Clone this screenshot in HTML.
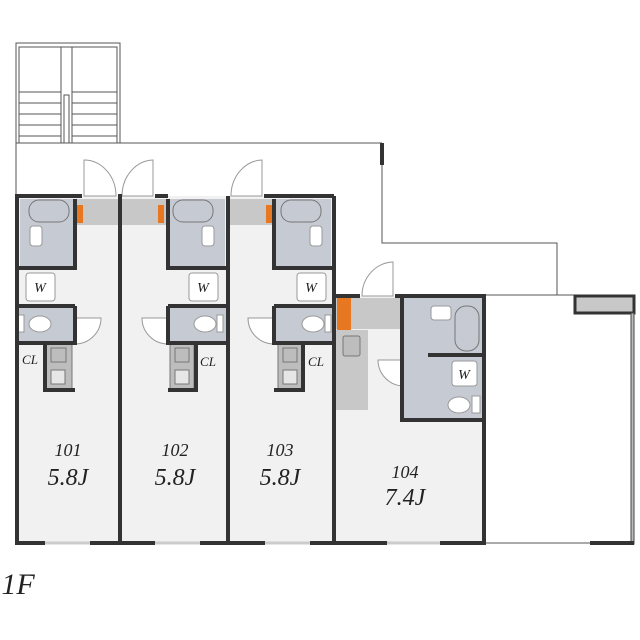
<!DOCTYPE html>
<html><head><meta charset="utf-8"><style>
html,body{margin:0;padding:0;background:#fff;}
svg{display:block}
text{font-family:"Liberation Serif",serif;font-style:italic;fill:#222}
</style></head><body>
<svg width="640" height="640" viewBox="0 0 640 640" xmlns="http://www.w3.org/2000/svg">
<!-- stairs -->
<g fill="none" stroke="#555" stroke-width="1">
<rect x="16" y="43" width="104" height="100"/>
<rect x="19" y="47" width="98" height="96"/>
<line x1="61" y1="47" x2="61" y2="143"/><line x1="72" y1="47" x2="72" y2="143"/>
<rect x="64" y="95" width="5" height="48"/>
<line x1="19" y1="92" x2="61" y2="92"/><line x1="72" y1="92" x2="117" y2="92"/>
<line x1="19" y1="103" x2="61" y2="103"/><line x1="72" y1="103" x2="117" y2="103"/>
<line x1="19" y1="114" x2="61" y2="114"/><line x1="72" y1="114" x2="117" y2="114"/>
<line x1="19" y1="125" x2="61" y2="125"/><line x1="72" y1="125" x2="117" y2="125"/>
<line x1="19" y1="136" x2="61" y2="136"/><line x1="72" y1="136" x2="117" y2="136"/>
</g>
<!-- outline -->
<g fill="none" stroke="#555" stroke-width="1">
<polyline points="16,196 16,143 382,143"/>
<polyline points="382,165 382,243 557,243 557,295 484,295"/>
<line x1="484" y1="543" x2="633" y2="543"/>
<line x1="557" y1="295" x2="575" y2="295"/>
</g>
<rect x="380" y="143" width="4" height="22" fill="#333"/>
<rect x="575" y="296" width="59" height="17" fill="#c8c8c8" stroke="#333" stroke-width="3"/>
<rect x="631" y="313" width="3" height="231" fill="#bbb" stroke="#444" stroke-width="1"/>
<rect x="590" y="541" width="44" height="4" fill="#333"/>
<!-- unit floors -->
<g fill="#f1f1f1">
<rect x="17" y="196" width="103" height="347"/>
<rect x="120" y="196" width="108" height="347"/>
<rect x="228" y="196" width="106" height="347"/>
<rect x="334" y="296" width="150" height="247"/>
</g>
<!-- entrances -->
<g fill="#c8c8c8">
<rect x="75" y="199" width="43" height="26"/>
<rect x="122" y="199" width="44" height="26"/>
<rect x="230" y="199" width="44" height="26"/>
<rect x="336" y="298" width="66" height="31"/>
<rect x="336" y="330" width="32" height="80"/>
</g>
<g fill="#e87722">
<rect x="77" y="205" width="6" height="18"/>
<rect x="158" y="205" width="6" height="18"/>
<rect x="266" y="205" width="6" height="18"/>
<rect x="337" y="298" width="14" height="32"/>
</g>
<!-- baths -->
<g fill="#c5cad3">
<rect x="20" y="199" width="55" height="69"/>
<rect x="168" y="199" width="57" height="69"/>
<rect x="276" y="199" width="55" height="69"/>
<rect x="17" y="306" width="58" height="37"/>
<rect x="168" y="306" width="60" height="37"/>
<rect x="274" y="306" width="60" height="37"/>
<rect x="404" y="298" width="78" height="120"/>
</g>
<g fill="#c5cad3" stroke="#777" stroke-width="1">
<rect x="29" y="200" width="40" height="22" rx="10"/>
<rect x="173" y="200" width="40" height="22" rx="10"/>
<rect x="281" y="200" width="40" height="22" rx="10"/>
<rect x="455" y="306" width="24" height="45" rx="11"/>
</g>
<g fill="#fff" stroke="#999" stroke-width="1">
<rect x="30" y="226" width="12" height="20" rx="3"/>
<rect x="202" y="226" width="12" height="20" rx="3"/>
<rect x="310" y="226" width="12" height="20" rx="3"/>
<rect x="431" y="306" width="20" height="14" rx="3"/>
<ellipse cx="40" cy="324" rx="11" ry="8"/><rect x="18" y="315" width="6" height="17"/>
<ellipse cx="205" cy="324" rx="11" ry="8"/><rect x="217" y="315" width="6" height="17"/>
<ellipse cx="313" cy="324" rx="11" ry="8"/><rect x="325" y="315" width="6" height="17"/>
<ellipse cx="459" cy="405" rx="11" ry="8"/><rect x="472" y="396" width="8" height="17"/>
<rect x="26" y="273" width="29" height="28" rx="3"/>
<rect x="189" y="273" width="29" height="28" rx="3"/>
<rect x="297" y="273" width="29" height="28" rx="3"/>
<rect x="452" y="361" width="25" height="25" rx="3"/>
</g>
<!-- kitchens -->
<g fill="#bdbdbd" stroke="#777" stroke-width="1">
<rect x="46" y="343" width="26" height="46"/>
<rect x="170" y="343" width="24" height="46"/>
<rect x="278" y="343" width="24" height="46"/>
<rect x="51" y="348" width="15" height="14"/>
<rect x="175" y="348" width="14" height="14"/>
<rect x="283" y="348" width="14" height="14"/>
<rect x="343" y="336" width="17" height="20" rx="2"/>
<rect x="51" y="370" width="14" height="14" fill="#e6e6e6"/>
<rect x="175" y="370" width="14" height="14" fill="#e6e6e6"/>
<rect x="283" y="370" width="14" height="14" fill="#e6e6e6"/>
</g>
<!-- doors -->
<g fill="#fff" stroke="#999" stroke-width="1">
<path d="M84,196 L84,160 A32,36 0 0 1 116,196 Z"/>
<path d="M153,196 L153,160 A32,36 0 0 0 122,196 Z"/>
<path d="M262,196 L262,160 A32,36 0 0 0 231,196 Z"/>
<path d="M393,296 L393,262 A32,34 0 0 0 362,296 Z"/>
<path d="M75,318 L101,318 A26,26 0 0 1 75,344"/>
<path d="M168,318 L142,318 A26,26 0 0 0 168,344"/>
<path d="M274,318 L248,318 A26,26 0 0 0 274,344"/>
<path d="M404,360 L378,360 A26,26 0 0 0 404,386"/>
</g>
<!-- walls -->
<g fill="none" stroke="#333" stroke-width="4">
<polyline points="82,196 17,196 17,543 45,543"/>
<line x1="120" y1="196" x2="120" y2="543"/>
<line x1="228" y1="196" x2="228" y2="543"/>
<line x1="334" y1="196" x2="334" y2="543"/>
<polyline points="155,196 168,196"/>
<polyline points="264,196 334,196"/>
<line x1="118" y1="196" x2="122" y2="196"/>
<polyline points="334,296 360,296"/>
<polyline points="395,296 484,296 484,543 440,543"/>
<polyline points="75,199 75,268 17,268"/><polyline points="75,306 17,306"/><polyline points="75,306 75,343 17,343"/>
<polyline points="45,343 45,390 75,390"/>
<polyline points="168,199 168,268 228,268"/><polyline points="168,306 228,306"/><polyline points="168,306 168,343 228,343"/>
<polyline points="196,343 196,390 168,390"/>
<polyline points="274,199 274,268 334,268"/><polyline points="274,306 334,306"/><polyline points="274,306 274,343 334,343"/>
<polyline points="303,343 303,390 274,390"/>
<polyline points="402,296 402,420 484,420"/>
<line x1="428" y1="355" x2="484" y2="355"/>
<line x1="120" y1="543" x2="155" y2="543"/><line x1="90" y1="543" x2="120" y2="543"/>
<line x1="200" y1="543" x2="228" y2="543"/><line x1="228" y1="543" x2="265" y2="543"/>
<line x1="310" y1="543" x2="334" y2="543"/><line x1="334" y1="543" x2="387" y2="543"/>
</g>
<g stroke="#ccc" stroke-width="3">
<line x1="45" y1="543" x2="90" y2="543"/><line x1="155" y1="543" x2="200" y2="543"/>
<line x1="265" y1="543" x2="310" y2="543"/><line x1="387" y1="543" x2="440" y2="543"/>
</g>
<!-- labels -->
<g font-size="14" text-anchor="middle">
<text x="40" y="292">W</text><text x="203" y="292">W</text><text x="311" y="292">W</text><text x="464" y="379">W</text>
<text x="30" y="364" font-size="13">CL</text><text x="208" y="366" font-size="13">CL</text><text x="316" y="366" font-size="13">CL</text>
</g>
<g text-anchor="middle">
<text x="68" y="456" font-size="18">101</text><text x="68" y="485" font-size="24">5.8J</text>
<text x="175" y="456" font-size="18">102</text><text x="175" y="485" font-size="24">5.8J</text>
<text x="280" y="456" font-size="18">103</text><text x="280" y="485" font-size="24">5.8J</text>
<text x="405" y="478" font-size="18">104</text><text x="405" y="505" font-size="24">7.4J</text>
<text x="18" y="594" font-size="30">1F</text>
</g>
</svg>
</body></html>
